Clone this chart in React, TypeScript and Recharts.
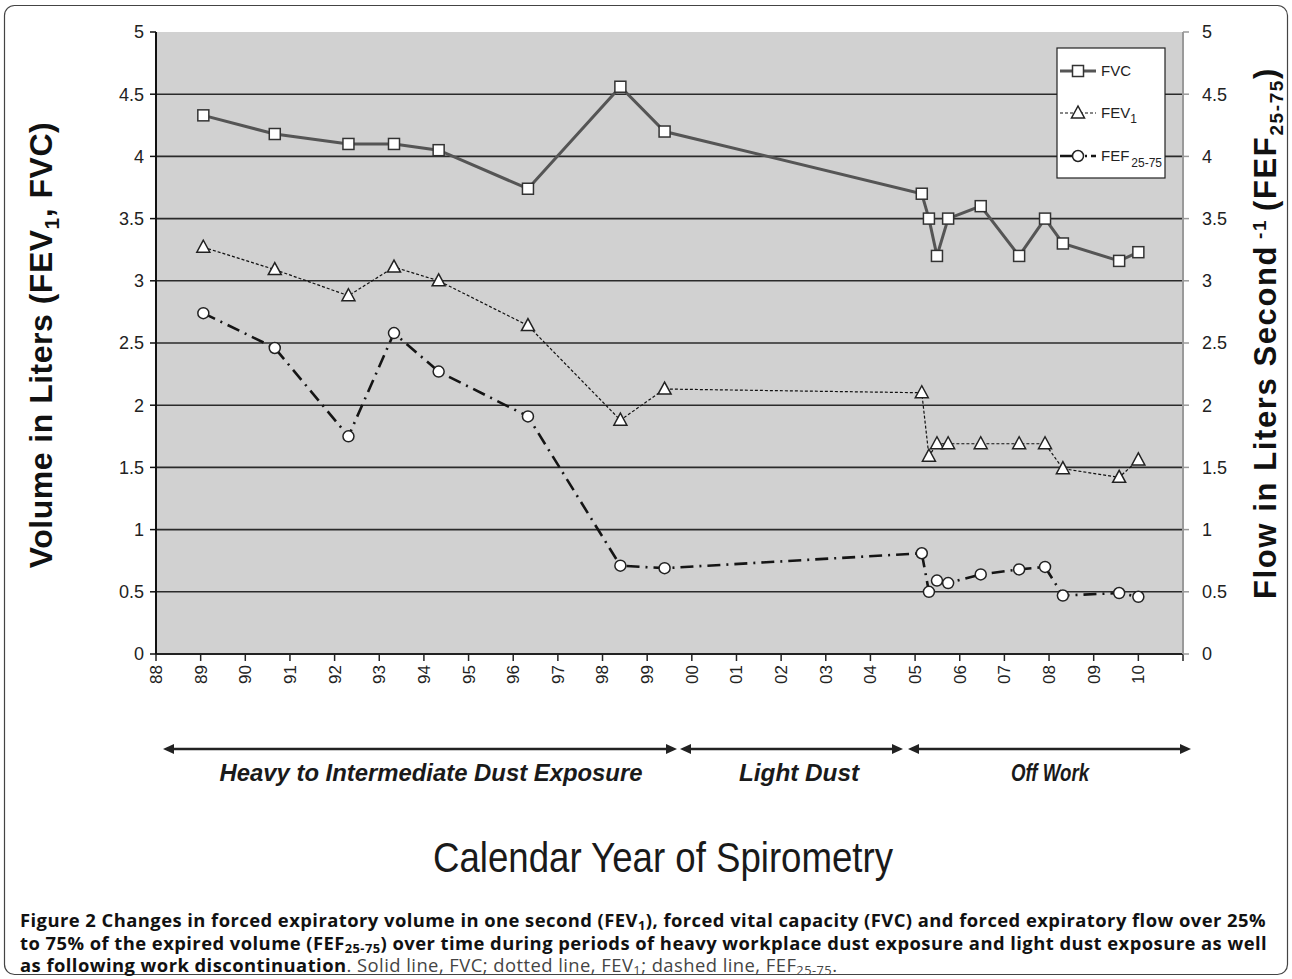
import { LineChart, Line, XAxis, YAxis, CartesianGrid } from "recharts";

// spirometry dates (decimal calendar years)
const visitYears = [
  1989.06, 1990.66, 1992.31, 1993.33, 1994.33, 1996.33, 1998.4, 1999.39,
  2005.15, 2005.31, 2005.49, 2005.74, 2006.47, 2007.33, 2007.91, 2008.31,
  2009.57, 2010.0,
];
const fvc = [
  4.33, 4.18, 4.1, 4.1, 4.05, 3.74, 4.56, 4.2, 3.7, 3.5, 3.2, 3.5, 3.6, 3.2,
  3.5, 3.3, 3.16, 3.23,
];
const fev1 = [
  3.27, 3.09, 2.88, 3.11, 3.0, 2.64, 1.88, 2.13, 2.1, 1.59, 1.69, 1.69, 1.69,
  1.69, 1.69, 1.49, 1.42, 1.56,
];
const fef = [
  2.74, 2.46, 1.75, 2.58, 2.27, 1.91, 0.71, 0.69, 0.81, 0.5, 0.59, 0.57, 0.64,
  0.68, 0.7, 0.47, 0.49, 0.46,
];
const yearTicks = [
  1988, 1989, 1990, 1991, 1992, 1993, 1994, 1995, 1996, 1997, 1998, 1999, 2000,
  2001, 2002, 2003, 2004, 2005, 2006, 2007, 2008, 2009, 2010, 2011,
];
const valueTicks = [0, 0.5, 1, 1.5, 2, 2.5, 3, 3.5, 4, 4.5, 5];
const periodLabels = [
  "Heavy to Intermediate Dust Exposure",
  "Light Dust",
  "Off Work",
];

const rows = visitYears.map((year, i) => ({
  year,
  fvc: fvc[i],
  fev1: fev1[i],
  fef: fef[i],
}));

const font = "'Liberation Sans', Arial, sans-serif";

const SquareDot = (p: any) =>
  p.cx == null ? null : (
    <rect
      key={`sq-${p.index}`}
      x={p.cx - 5.5}
      y={p.cy - 5.5}
      width={11}
      height={11}
      fill="#fff"
      stroke="#333"
      strokeWidth={1.5}
    />
  );

const TriangleDot = (p: any) =>
  p.cx == null ? null : (
    <polygon
      key={`tr-${p.index}`}
      points={`${p.cx},${p.cy - 7} ${p.cx - 6.5},${p.cy + 5} ${p.cx + 6.5},${p.cy + 5}`}
      fill="#fff"
      stroke="#222"
      strokeWidth={1.5}
    />
  );

const CircleDot = (p: any) =>
  p.cx == null ? null : (
    <circle
      key={`ci-${p.index}`}
      cx={p.cx}
      cy={p.cy}
      r={5.5}
      fill="#fff"
      stroke="#222"
      strokeWidth={1.5}
    />
  );

const YearTick = ({ x, y, payload }: any) => {
  const v = payload.value;
  const label = v === 2011 ? "" : String(v % 100).padStart(2, "0");
  return (
    <g transform={`translate(${x},${y})`}>
      <text
        transform="rotate(-90)"
        x={0}
        y={0}
        dy="0.35em"
        textAnchor="end"
        fill="#222"
        fontSize={17}
        fontFamily={font}
      >
        {label}
      </text>
    </g>
  );
};

const tickStyle = { fill: "#222", fontSize: 18, fontFamily: font };

// period arrows below the axis, in page pixels
const periodSpans = [
  { x1: 163, x2: 677, cx: 431, w: 423 },
  { x1: 680, x2: 903, cx: 799, w: 120 },
  { x1: 908, x2: 1191, cx: 1050, w: 78 },
];

const Arrow = ({ x1, x2, y }: { x1: number; x2: number; y: number }) => (
  <g>
    <line x1={x1 + 8} x2={x2 - 8} y1={y} y2={y} stroke="#222" strokeWidth={2.5} />
    <polygon points={`${x1},${y} ${x1 + 11},${y - 5} ${x1 + 11},${y + 5}`} fill="#222" />
    <polygon points={`${x2},${y} ${x2 - 11},${y - 5} ${x2 - 11},${y + 5}`} fill="#222" />
  </g>
);

const sub = {
  fontSize: "0.7em",
  position: "relative" as const,
  top: "0.25em",
  lineHeight: 0,
};

export default function App() {
  return (
    <div
      style={{
        position: "absolute",
        left: 0,
        top: 0,
        width: 1292,
        height: 979,
        background: "#fff",
        overflow: "hidden",
      }}
    >
      <LineChart
        width={1292}
        height={700}
        data={rows}
        margin={{ top: 32, right: 0, left: 0, bottom: 0 }}
      >
        <CartesianGrid
          vertical={false}
          fill="#d1d1d1"
          stroke="#2a2a2a"
          strokeWidth={1.6}
          yAxisId="left"
          horizontalValues={[0.5, 1, 1.5, 2, 2.5, 3, 3.5, 4, 4.5]}
        />
        <XAxis
          dataKey="year"
          type="number"
          domain={[1988, 2011]}
          ticks={yearTicks}
          interval={0}
          allowDataOverflow
          height={46}
          tickSize={7}
          tickMargin={4}
          tick={<YearTick />}
          axisLine={{ stroke: "#222", strokeWidth: 2 }}
          tickLine={{ stroke: "#222", strokeWidth: 1.5 }}
        />
        <YAxis
          yAxisId="left"
          width={156}
          domain={[0, 5]}
          ticks={valueTicks}
          interval={0}
          allowDataOverflow
          tickSize={6}
          tickMargin={6}
          tick={tickStyle}
          axisLine={{ stroke: "#111", strokeWidth: 2 }}
          tickLine={{ stroke: "#111", strokeWidth: 1.5 }}
        />
        <YAxis
          yAxisId="right"
          orientation="right"
          width={109}
          domain={[0, 5]}
          ticks={valueTicks}
          interval={0}
          allowDataOverflow
          tickSize={6}
          tickMargin={13}
          tick={tickStyle}
          axisLine={{ stroke: "#9a9a9a", strokeWidth: 2 }}
          tickLine={{ stroke: "#9a9a9a", strokeWidth: 1.5 }}
        />
        <Line
          yAxisId="left"
          dataKey="fvc"
          type="linear"
          stroke="#555"
          strokeWidth={3}
          dot={SquareDot}
          activeDot={false}
          isAnimationActive={false}
        />
        <Line
          yAxisId="left"
          dataKey="fev1"
          type="linear"
          stroke="#111"
          strokeWidth={1.2}
          strokeDasharray="3 2"
          dot={TriangleDot}
          activeDot={false}
          isAnimationActive={false}
        />
        <Line
          yAxisId="right"
          dataKey="fef"
          type="linear"
          stroke="#151515"
          strokeWidth={2.6}
          strokeDasharray="13 6 2 6"
          dot={CircleDot}
          activeDot={false}
          isAnimationActive={false}
        />
      </LineChart>

      <svg
        width={1292}
        height={979}
        style={{ position: "absolute", left: 0, top: 0, pointerEvents: "none" }}
      >
        <rect
          x={4.5}
          y={5.5}
          width={1283}
          height={969}
          rx={10}
          fill="none"
          stroke="#444"
          strokeWidth={1.2}
        />

        {/* legend */}
        <rect x={1057} y={48} width={108} height={130} fill="#fff" stroke="#222" strokeWidth={1.2} />
        <line x1={1060} x2={1096} y1={71} y2={71} stroke="#555" strokeWidth={3} />
        <SquareDot cx={1078} cy={71} index={0} />
        <text x={1101} y={76} fontSize={15} fontFamily={font} fill="#222">FVC</text>
        <line x1={1060} x2={1096} y1={113} y2={113} stroke="#111" strokeWidth={1.2} strokeDasharray="3 2" />
        <TriangleDot cx={1078} cy={113} index={0} />
        <text x={1101} y={118} fontSize={15} fontFamily={font} fill="#222">
          FEV<tspan dy={5} fontSize={12}>1</tspan>
        </text>
        <line x1={1060} x2={1096} y1={156} y2={156} stroke="#151515" strokeWidth={2.6} strokeDasharray="13 12 2 4 6 20" />
        <CircleDot cx={1078} cy={156} index={0} />
        <text x={1101} y={161} fontSize={15} fontFamily={font} fill="#222">
          FEF<tspan dx={2} dy={6} fontSize={12}>25-75</tspan>
        </text>

        {/* axis titles */}
        <text
          transform="translate(52,345) rotate(-90)"
          textAnchor="middle"
          fontSize={32}
          fontWeight="bold"
          fontFamily={font}
          fill="#111"
          letterSpacing={0.5}
        >
          Volume in Liters (FEV<tspan dy={7} fontSize={21}>1</tspan>
          <tspan dy={-7}>, FVC)</tspan>
        </text>
        <text
          transform="translate(1276,333) rotate(-90)"
          textAnchor="middle"
          fontSize={31}
          fontWeight="bold"
          fontFamily={font}
          fill="#111"
          letterSpacing={1.6}
        >
          Flow in Liters Second
          <tspan dx={6} dy={-10} fontSize={19}>-1</tspan>
          <tspan dx={8} dy={10}>(FEF</tspan>
          <tspan dy={7} fontSize={19}>25-75</tspan>
          <tspan dy={-7}>)</tspan>
        </text>

        {/* exposure periods */}
        {periodSpans.map((s, i) => (
          <g key={periodLabels[i]}>
            <Arrow x1={s.x1} x2={s.x2} y={749} />
            <text
              x={s.cx}
              y={781}
              textAnchor="middle"
              fontSize={23}
              fontWeight="bold"
              fontStyle="italic"
              fontFamily={font}
              fill="#1a1a1a"
              textLength={s.w}
              lengthAdjust="spacingAndGlyphs"
            >
              {periodLabels[i]}
            </text>
          </g>
        ))}

        <text
          x={663}
          y={872}
          textAnchor="middle"
          fontSize={42}
          fontFamily={font}
          fill="#1a1a1a"
          textLength={460}
          lengthAdjust="spacingAndGlyphs"
        >
          Calendar Year of Spirometry
        </text>
      </svg>

      <div
        style={{
          position: "absolute",
          left: 20,
          top: 909,
          fontFamily: "'Open Sans', sans-serif",
          fontSize: 18.4,
          lineHeight: "22.5px",
          letterSpacing: 0.45,
          whiteSpace: "nowrap",
          color: "#111",
        }}
      >
        <b>
          Figure 2 Changes in forced expiratory volume in one second (FEV<span style={sub}>1</span>), forced vital capacity (FVC) and forced expiratory flow over 25%
        </b>
        <br />
        <b>
          to 75% of the expired volume (FEF<span style={sub}>25-75</span>) over time during periods of heavy workplace dust exposure and light dust exposure as well
        </b>
        <br />
        <b>as following work discontinuation</b>
        <span style={{ color: "#444" }}>
          . Solid line, FVC; dotted line, FEV<span style={sub}>1</span>; dashed line, FEF<span style={sub}>25-75</span>.
        </span>
      </div>
    </div>
  );
}
